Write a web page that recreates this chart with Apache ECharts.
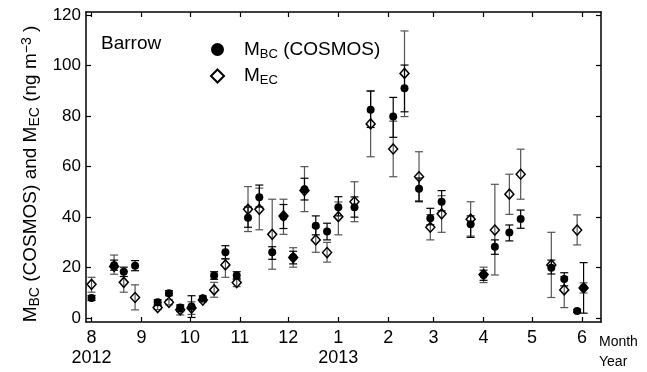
<!DOCTYPE html>
<html>
<head>
<meta charset="utf-8">
<style>
    html, body {
        margin: 0;
        padding: 0;
        overflow: hidden;
        background: #fff;
    }
</style>
</head>
<body>
<div id="chart" style="width:647px; height:372px;"></div>
<script src="https://cdn.jsdelivr.net/npm/echarts@6/dist/echarts.min.js"></script>
<script>
    // sampling dates (roughly weekly), Barrow 2012-2013
    var dates = [
        '2012-08-01', '2012-08-15', '2012-08-21', '2012-08-28', '2012-09-11', '2012-09-18',
        '2012-09-25', '2012-10-02', '2012-10-09', '2012-10-16', '2012-10-23', '2012-10-30',
        '2012-11-06', '2012-11-13', '2012-11-21', '2012-11-28', '2012-12-04', '2012-12-11',
        '2012-12-18', '2012-12-25', '2013-01-01', '2013-01-11', '2013-01-21', '2013-02-04',
        '2013-02-11', '2013-02-20', '2013-02-27', '2013-03-06', '2013-03-24', '2013-04-01',
        '2013-04-08', '2013-04-17', '2013-04-24', '2013-05-13', '2013-05-21', '2013-05-29',
        '2013-06-02'
    ];

    // M_BC (COSMOS), ng m-3
    var bcMean = [8, 21, 18.4, 20.8, 6.3, 9.9, 4.2, 4.6, 7.9, 16.9, 26.1, 16.9,
        39.8, 47.9, 26.1, 40.2, 24.1, 51, 36.6, 34.3, 43.9, 43.9, 82.5, 79.8,
        91, 51.2, 39.6, 46.1, 37.2, 17.1, 28.3, 33.9, 39.3, 20, 15.5, 2.9, 12.1];
    var bcLow = [7, 19, 16.5, 18.8, 5.3, 8.9, 2.6, 0.3, 7, 15.4, 23.5, 15.5,
        36, 44, 23.3, 35.5, 21.5, 46.8, 33, 31, 40.5, 40, 75.5, 71.6,
        81.7, 46.1, 37, 42.5, 32, 15, 25.3, 30.6, 35.6, 17.5, 12.8, 2.3, 2];
    var bcHigh = [9, 23, 20.2, 22.8, 7.3, 10.9, 5.3, 8.9, 8.8, 18.4, 28.7, 18.4,
        44, 52.7, 28.3, 45, 26.5, 55.4, 40.5, 37.6, 48.1, 48, 89.9, 87.4,
        100.2, 55.5, 43.5, 50.5, 40.5, 19, 31, 36.9, 42.8, 23, 18, 3.5, 22];

    // M_EC, ng m-3
    var ecMean = [13.4, 20.5, 14.2, 8.2, 4.2, 6.3, 3.3, 4, 7.2, 11.2, 21.1, 14.1,
        43.1, 43.1, 33.2, 40.5, 24, 50.5, 31, 26, 40.2, 46.1, 76.9, 67,
        96.9, 56, 36, 41.3, 39.2, 17.3, 34.9, 49.1, 57, 21.1, 11.2, 34.9, 12];
    var ecLow = [10.3, 17.4, 10.3, 3.3, 3.4, 5.3, 1.3, 1.5, 6.4, 8.3, 16.2, 12.5,
        34.3, 35, 19.4, 33.2, 20.2, 42.2, 26.1, 22.2, 33, 38.2, 63.9, 56,
        79.8, 46.5, 31, 34, 32.5, 14.1, 17.1, 41.1, 47.1, 8.2, 4.2, 29, 10];
    var ecHigh = [16.2, 25, 18.5, 13.2, 5, 7.3, 4.8, 6.5, 8, 14.2, 23.5, 15.6,
        52.1, 51.5, 47.1, 47.1, 27.9, 60, 36, 30, 46, 54, 90, 78,
        113.7, 65.9, 41, 48.5, 46.1, 20.2, 53, 57, 66.9, 34, 16.5, 40.9, 14];

    var monthTicks = ['2012-08-01', '2012-09-01', '2012-10-01', '2012-11-01', '2012-12-01',
        '2013-01-01', '2013-02-01', '2013-03-01', '2013-04-01', '2013-05-01', '2013-06-01'];
    var yTicks = [0, 20, 40, 60, 80, 100, 120];

    function toTime(s) {
        var p = s.split('-');
        return Date.UTC(+p[0], +p[1] - 1, +p[2]);
    }

    var times = dates.map(toTime);
    var monthTimes = monthTicks.map(toTime);

    function pairs(a, b) {
        return times.map(function (t, i) {
            return b ? [t, a[i], b[i]] : [t, a[i]];
        });
    }

    function errorBar(color) {
        return function (params, api) {
            var x = api.value(0);
            var lo = api.coord([x, api.value(1)]);
            var hi = api.coord([x, api.value(2)]);
            var w = 4;
            var st = {stroke: color, lineWidth: 1.2};
            return {
                type: 'group',
                children: [
                    {type: 'line', shape: {x1: lo[0], y1: lo[1], x2: hi[0], y2: hi[1]}, style: st},
                    {type: 'line', shape: {x1: lo[0] - w, y1: lo[1], x2: lo[0] + w, y2: lo[1]}, style: st},
                    {type: 'line', shape: {x1: hi[0] - w, y1: hi[1], x2: hi[0] + w, y2: hi[1]}, style: st}
                ]
            };
        };
    }

    var xMin = Date.UTC(2012, 6, 28, 14);
    var xMax = Date.UTC(2013, 5, 12, 19);
    var axisLine = {show: true, onZero: false, lineStyle: {color: '#000', width: 1.5}};
    var tickStyle = {color: '#000', width: 1.2};

    var chart = echarts.init(document.getElementById('chart'), null, {renderer: 'canvas'});
    chart.setOption({
        animation: false,
        textStyle: {fontFamily: 'Liberation Sans, Arial, sans-serif', color: '#000'},
        title: {
            text: 'Barrow',
            left: 101,
            top: 34,
            padding: 0,
            textStyle: {fontSize: 19, fontWeight: 'normal', color: '#000'}
        },
        legend: {
            orient: 'vertical',
            left: 210,
            top: 40,
            padding: 0,
            itemWidth: 13,
            itemHeight: 13,
            itemGap: 6,
            data: ['bc', 'ec'],
            formatter: function (name) {
                return name === 'bc' ? '{m|M}{s|BC}{m| (COSMOS)}' : '{m|M}{s|EC}';
            },
            textStyle: {
                padding: [0, 0, 0, 15],
                rich: {
                    m: {fontSize: 19, lineHeight: 22, color: '#000'},
                    s: {fontSize: 13, lineHeight: 13, verticalAlign: 'bottom', color: '#000'}
                }
            }
        },
        grid: {left: 86, right: 46, top: 12, bottom: 50, show: false},
        xAxis: [{
            type: 'value',
            min: xMin,
            max: xMax,
            axisLine: axisLine,
            axisTick: {show: true, inside: true, length: 5, customValues: monthTimes, lineStyle: tickStyle},
            axisLabel: {
                customValues: monthTimes,
                fontSize: 18,
                lineHeight: 20,
                margin: 6,
                color: '#000',
                formatter: function (v) {
                    var d = new Date(v);
                    var m = d.getUTCMonth() + 1;
                    if (m === 8 && d.getUTCFullYear() === 2012) return '8\n2012';
                    if (m === 1) return '1\n' + d.getUTCFullYear();
                    return '' + m;
                }
            },
            splitLine: {show: false}
        }, {
            type: 'value',
            position: 'top',
            min: xMin,
            max: xMax,
            axisLine: axisLine,
            axisTick: {show: true, inside: true, length: 5, customValues: monthTimes, lineStyle: tickStyle},
            axisLabel: {show: false},
            splitLine: {show: false}
        }],
        yAxis: [{
            type: 'value',
            min: -1.5,
            max: 121.2,
            axisLine: axisLine,
            axisTick: {show: true, inside: true, length: 5, customValues: yTicks, lineStyle: tickStyle},
            axisLabel: {customValues: yTicks, fontSize: 17, margin: 5, color: '#000'},
            splitLine: {show: false},
            name: '{m|M}{s|BC}{m| (COSMOS) and M}{s|EC}{m| (ng m}{p|\u22123}{m| )}',
            nameLocation: 'middle',
            nameGap: 42,
            nameTextStyle: {
                padding: [0, 14, 0, 0],
                rich: {
                    m: {fontSize: 19, lineHeight: 22, color: '#000'},
                    s: {fontSize: 14, lineHeight: 14, verticalAlign: 'bottom', color: '#000'},
                    p: {fontSize: 14, lineHeight: 14, verticalAlign: 'top', color: '#000'}
                }
            }
        }, {
            type: 'value',
            position: 'right',
            min: -1.5,
            max: 121.2,
            axisLine: axisLine,
            axisTick: {show: true, inside: true, length: 5, customValues: yTicks, lineStyle: tickStyle},
            axisLabel: {show: false},
            splitLine: {show: false}
        }],
        graphic: [{
            type: 'text',
            left: 599,
            top: 332,
            style: {text: 'Month\nYear', font: '14px Liberation Sans, Arial, sans-serif', lineHeight: 20, fill: '#000'}
        }],
        series: [{
            type: 'custom',
            name: 'ecErr',
            renderItem: errorBar('#555'),
            data: pairs(ecLow, ecHigh),
            encode: {x: 0, y: [1, 2]},
            z: 2
        }, {
            type: 'custom',
            name: 'bcErr',
            renderItem: errorBar('#000'),
            data: pairs(bcLow, bcHigh),
            encode: {x: 0, y: [1, 2]},
            z: 2
        }, {
            type: 'scatter',
            name: 'bc',
            symbol: 'circle',
            symbolSize: 8,
            itemStyle: {color: '#000', opacity: 1},
            data: pairs(bcMean),
            z: 3
        }, {
            type: 'scatter',
            name: 'ec',
            symbol: 'diamond',
            symbolSize: [9, 10],
            itemStyle: {color: 'rgba(255,255,255,0)', borderColor: '#000', borderWidth: 1.5, opacity: 1},
            data: pairs(ecMean),
            z: 4
        }]
    });
</script>
</body>
</html>
